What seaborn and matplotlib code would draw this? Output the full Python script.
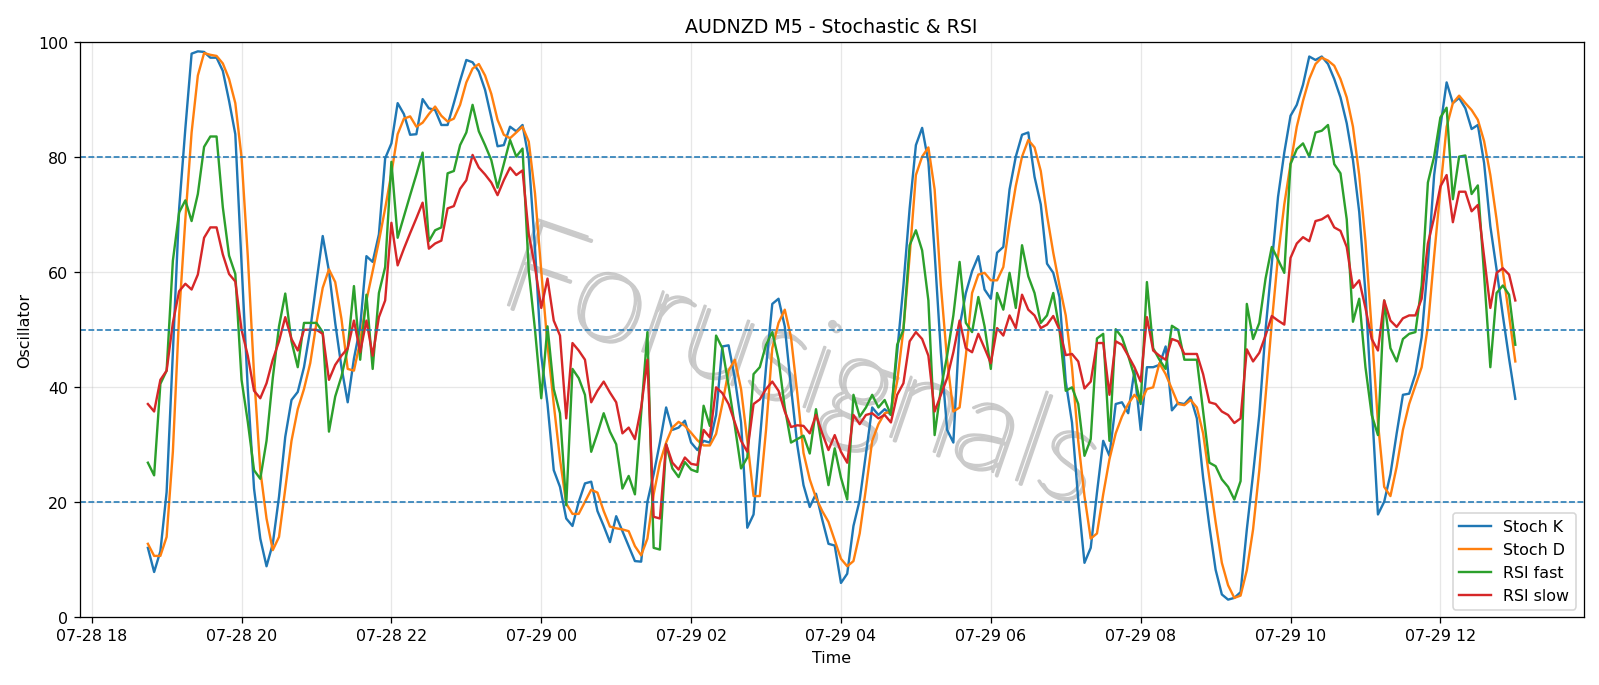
import matplotlib
matplotlib.use("Agg")
import matplotlib.pyplot as plt
import matplotlib.dates as mdates
import matplotlib.patheffects as pe
import pandas as pd
import seaborn as sns

# 5-minute bars, 07-28 18:45 -> 07-29 13:00
start_time = "2025-07-28 18:45"
n_bars = 220

stoch_k = [
    12.1, 7.9, 11.5, 21.8, 46, 71, 85, 98, 98.4, 98.3,
    97.3, 97.3, 95, 89.8, 84, 61.5, 39.7, 22.4, 13.7, 8.9,
    12.8, 21, 31.4, 37.8, 39.2, 43.5, 50, 58.3, 66.3, 60.2,
    51.2, 43.5, 37.4, 45, 50.5, 62.8, 61.8, 66.6, 79.8, 82.4,
    89.4, 87.5, 83.9, 84, 90.1, 88.5, 88.2, 85.6, 85.6, 89.4,
    93.3, 96.9, 96.5, 94.9, 91.7, 86.9, 81.9, 82.1, 85.3, 84.5,
    85.6, 79.8, 64.1, 45.5, 37.1, 25.6, 22.7, 17.2, 15.9, 20.1,
    23.3, 23.6, 18.5, 15.9, 13.1, 17.6, 15, 12.4, 9.8, 9.7,
    20.1, 24.9, 30.4, 36.5, 32.6, 33, 34.2, 30.4, 29.1, 30.7,
    30.4, 35.2, 47.1, 47.3, 41.6, 33.9, 15.6, 17.9, 30.7, 43.5,
    54.5, 55.4, 50.6, 40, 30, 23, 19.2, 21.5, 17, 12.8,
    12.5, 6, 7.6, 15.9, 20.4, 28.5, 36.5, 35.2, 36.2, 35.2,
    46.1, 57.7, 71.1, 82.1, 85.1, 79.2, 63.4, 46.1, 32.6, 30.4,
    50.6, 56.4, 60.2, 62.8, 57, 55.4, 63.4, 64.4, 74.4, 80.1,
    83.9, 84.3, 76.6, 71.8, 61.5, 59.9, 55.7, 41, 33.9, 20.5,
    9.5, 12.1, 21.7, 30.7, 28.1, 37.1, 37.4, 35.5, 42.9, 32.6,
    43.5, 43.5, 43.9, 47.1, 36, 37.3, 37.1, 38.3, 34.6, 24.3,
    15.9, 8.3, 4, 3.1, 3.4, 4.4, 15.3, 24.9, 35.2, 50,
    61.5, 73.1, 80.8, 87.2, 89.1, 92.6, 97.5, 96.9, 97.5, 96.2,
    93.6, 90.4, 85.9, 79.5, 70.5, 56.4, 37.1, 17.9, 20.1, 24.9,
    32, 38.7, 38.9, 42.3, 48.7, 61.5, 76.9, 85.3, 93, 89.4,
    90.3, 88.5, 84.9, 85.6, 79, 68, 60.5, 52.5, 45, 38,
]

stoch_d = [
    12.8, 10.7, 10.7, 14, 28.8, 52.5, 69.2, 84.3, 94.2, 98.1,
    97.8, 97.6, 96.3, 93.6, 89.4, 80, 62.8, 42.3, 25.6, 17.2,
    11.7, 14, 22.4, 30.7, 36.2, 39.7, 44.2, 51.2, 57.3, 60.5,
    58.3, 51.9, 43.2, 42.9, 48, 55.1, 60.2, 65.4, 71.1, 77.2,
    84, 86.7, 87.1, 85.3, 86, 87.5, 88.8, 87.2, 86.2, 86.7,
    89.1, 93, 95.4, 96.2, 94.2, 91, 86.5, 83.9, 83.3, 84.3,
    85.3, 82.7, 73.7, 60.2, 47.4, 37.1, 27.5, 19.8, 18, 18,
    20.1, 22.2, 21.7, 18.5, 15.8, 15.5, 15.3, 15, 12.4, 10.8,
    13.7, 21.4, 26.9, 30.4, 33, 34, 33.3, 32.1, 30.8, 29.9,
    29.9, 31.9, 37.1, 42.9, 44.8, 39.7, 30.7, 21.1, 21.1, 32.6,
    46.8, 51.2, 53.5, 48.7, 39, 28.6, 24, 20.8, 18.5, 16.6,
    13.4, 10.2, 8.9, 9.8, 14.6, 22.4, 30.7, 33.6, 35.5, 35.8,
    41, 50, 62.8, 76.9, 80.1, 81.7, 74.4, 57.7, 44.8, 35.8,
    36.5, 45.5, 56.4, 59.6, 59.9, 58.6, 58.6, 60.9, 68.5, 75,
    80.1, 83, 81.7, 77.6, 69.9, 63.4, 57.7, 52.5, 43.5, 30.7,
    21.1, 13.7, 14.6, 21.4, 27.5, 32, 34.9, 37.1, 38.7, 37.4,
    39.7, 40, 44.2, 42.3, 39.7, 37.1, 36.9, 37.8, 36.5, 32,
    24.3, 16.6, 9.5, 5.6, 3.4, 3.8, 8.2, 15.3, 25.6, 38.4,
    51.2, 62.8, 71.8, 78.8, 85.3, 89.8, 93.6, 96.2, 97.3, 96.8,
    95.9, 93.6, 90.4, 85.3, 76.9, 65.4, 50, 33.9, 22.7, 21.1,
    26.2, 32.6, 37.1, 40.3, 43.5, 50.6, 62.8, 74.4, 85.3, 89.4,
    90.7, 89.4, 88.2, 86.5, 82.8, 76.9, 69.2, 60.2, 52.5, 44.5,
]

rsi_fast = [
    26.9, 24.7, 40.6, 42.9, 62, 70.4, 72.5, 68.9, 73.6, 81.8,
    83.6, 83.6, 71.3, 62.9, 59.7, 41.3, 34, 25.6, 24.1, 30.7,
    41.6, 50.6, 56.3, 48, 43.5, 51.2, 51.2, 51.2, 49.6, 32.3,
    38.4, 41.9, 46.7, 57.6, 44.8, 56.1, 43.2, 56.4, 60.9, 79.2,
    66, 69.7, 73.4, 77, 80.8, 65.4, 67.3, 67.8, 77.2, 77.6,
    82.1, 84.3, 89.1, 84.5, 82.1, 79.5, 74.7, 78.8, 83, 80.1,
    81.5, 60.2, 50, 38.1, 50.6, 39.7, 35.5, 19.5, 43.2, 41.6,
    38.7, 28.8, 32, 35.5, 32.3, 30.1, 22.4, 24.6, 21.4, 35.5,
    49.6, 12.1, 11.8, 30.1, 25.9, 24.4, 27, 25.7, 25.3, 36.8,
    33.3, 49, 46.8, 40.3, 33.3, 25.9, 27.8, 42.3, 43.5, 47.4,
    49.6, 44.8, 36.5, 30.4, 31, 31.6, 28.5, 36.2, 29.4, 23,
    29.4, 24.3, 20.5, 38.7, 34.9, 36.5, 38.7, 36.5, 37.8, 35.2,
    47.4, 50, 64.7, 67.3, 63.8, 55.1, 31.7, 39.7, 45.5, 52.5,
    61.8, 51.2, 49.6, 55.7, 50.6, 43.2, 56.4, 53.5, 59.9, 53.8,
    64.7, 59.3, 56.4, 51.2, 52.5, 56.4, 50, 39.4, 40, 37.1,
    28.1, 31, 48.5, 49.3, 30.7, 50.1, 48.7, 45.5, 41.9, 37.1,
    58.3, 46.8, 44.8, 43.2, 50.7, 50, 44.8, 44.8, 44.8, 35.8,
    26.9, 26.3, 24, 22.7, 20.5, 23.7, 54.5, 48.4, 51.2, 58.9,
    64.4, 62.2, 59.9, 78.8, 81.4, 82.4, 80.1, 84.3, 84.6, 85.6,
    78.8, 77.2, 69.2, 51.4, 55.4, 43.5, 35.2, 31.7, 55.1, 46.8,
    44.5, 48.4, 49.3, 49.6, 57.7, 75.6, 80.1, 86.9, 88.6, 72.7,
    80.1, 80.3, 73.6, 75.1, 59.6, 43.5, 56.4, 57.7, 56.1, 47.4,
]

rsi_slow = [
    37.1, 35.8, 41.3, 42.9, 51.2, 56.7, 58, 57, 59.6, 66,
    67.8, 67.8, 63.1, 59.7, 58.4, 50, 45.5, 39.4, 38.1, 40.7,
    44.8, 48, 52.2, 48.4, 46.4, 50, 50, 50, 49.3, 41.3,
    43.9, 45.5, 46.8, 51.6, 46.1, 51.6, 45.5, 52.2, 55.1, 68.6,
    61.2, 64.1, 66.8, 69.4, 72.1, 64.1, 65, 65.5, 71.1, 71.5,
    74.5, 76, 80.4, 78.2, 77, 75.6, 73.4, 76, 78.2, 76.9,
    77.7, 66.6, 60.9, 53.8, 58.9, 51.6, 49, 34.6, 47.7, 46.4,
    44.8, 37.4, 39.4, 41, 39.1, 37.4, 32, 33, 31, 36.5,
    44.8, 17.5, 17.2, 30.1, 26.9, 25.7, 27.8, 26.7, 26.5, 32.6,
    31.3, 40, 39, 37.1, 33.9, 30.7, 28.8, 37.1, 37.9, 39.7,
    41, 39.4, 35.8, 33.1, 33.4, 33.3, 32, 35.2, 32, 29.1,
    31.7, 28.8, 26.9, 35.2, 33.6, 35.2, 35.5, 34.6, 35.2, 33.9,
    38.7, 40.7, 48, 49.6, 48.4, 45.5, 35.8, 38.7, 41.6, 46.1,
    51.6, 46.8, 46.1, 49.3, 46.8, 44.2, 50.3, 49, 52.5, 50.3,
    56.1, 53.5, 52.5, 50.3, 50.9, 52.4, 50, 45.6, 45.8, 44.5,
    39.8, 41, 47.7, 47.7, 38.7, 48, 47.4, 45.5, 43.5, 41,
    52.2, 46.4, 45.5, 44.8, 48.4, 48, 45.8, 45.8, 45.8, 42.3,
    37.4, 37.1, 35.8, 35.2, 33.8, 34.6, 46.6, 44.5, 46, 49,
    52.4, 51.6, 50.9, 62.5, 65, 66.1, 65.4, 68.9, 69.2, 69.9,
    67.8, 67.2, 64.4, 57.3, 58.6, 53.8, 48.4, 46.4, 55.1, 51.6,
    50.5, 52, 52.5, 52.5, 55.4, 65, 69.5, 74.9, 76.9, 68.7,
    74, 74, 70.6, 71.7, 62.8, 53.8, 59.9, 60.7, 59.6, 55.1,
]

levels = [20, 50, 80]
series = [
    ("Stoch K", stoch_k, "tab:blue"),
    ("Stoch D", stoch_d, "tab:orange"),
    ("RSI fast", rsi_fast, "tab:green"),
    ("RSI slow", rsi_slow, "tab:red"),
]

times = pd.date_range(start_time, periods=n_bars, freq="5min")

fig, ax = plt.subplots(figsize=(14, 6), dpi=114.2857)
fig.subplots_adjust(left=0.0497, right=0.9898, top=0.9375, bottom=0.0985)

# thin grey watermark with a drop shadow, behind the lines
ax.text(
    0.478, 0.433, "Forusignals",
    transform=ax.transAxes, ha="center", va="center",
    fontsize=82, family=["Lato", "DejaVu Sans"], fontweight=200, rotation=-19,
    color="#cbcbcb", zorder=0,
    path_effects=[
        pe.SimpleLineShadow(offset=(2.5, -2.5), shadow_color="#8a8a8a", alpha=0.45, linewidth=1.8),
        pe.Stroke(linewidth=1.2, foreground="#cbcbcb"),
        pe.Normal(),
    ],
)

for name, values, color in series:
    sns.lineplot(x=times, y=values, ax=ax, label=name, color=color, linewidth=1.5)

for lvl in levels:
    ax.axhline(lvl, color="tab:blue", linestyle="--", linewidth=1)

ax.set_ylim(0, 100)
ax.xaxis.set_major_locator(mdates.HourLocator(byhour=range(0, 24, 2)))
ax.xaxis.set_major_formatter(mdates.DateFormatter("%m-%d %H"))
ax.grid(True, alpha=0.3)
ax.set_title("AUDNZD M5 - Stochastic & RSI")
ax.set_xlabel("Time")
ax.set_ylabel("Oscillator")
ax.legend(loc="lower right")

fig.savefig("out.png", dpi=114.2857)
